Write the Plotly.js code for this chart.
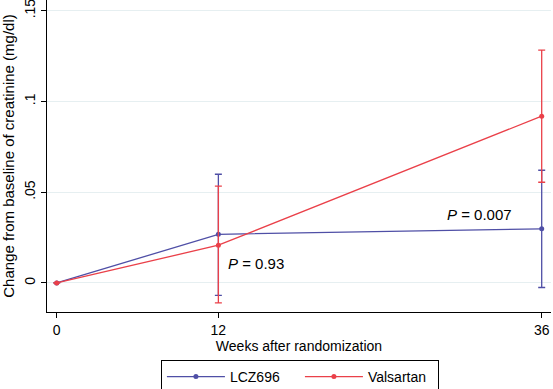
<!DOCTYPE html>
<html><head><meta charset="utf-8">
<script src="https://cdn.plot.ly/plotly-3.0.1.min.js"></script>
<style>html,body{margin:0;padding:0;background:#fff}#chart{width:553px;height:389px}</style>
</head><body><div id="chart"></div>
<script>
var weeks = [0, 12, 36];
var lczMean = [0, 0.0268, 0.0298];
var lczUpper = [0, 0.0599, 0.0621];
var lczLower = [0, -0.0068, -0.0025];
var valMean = [0, 0.0208, 0.0919];
var valUpper = [0, 0.0533, 0.1283];
var valLower = [0, -0.011, 0.0555];
var yTickVals = [0, 0.05, 0.1, 0.15];
var yTickText = ['0', '.05', '.1', '.15'];
var xTickVals = [0, 12, 36];
var seriesNames = ['LCZ696', 'Valsartan'];
var pLabels = ['<i>P</i> = 0.93', '<i>P</i> = 0.007'];

function diff(a, b) { return a.map(function (v, i) { return v - b[i]; }); }

var blue = '#4f4fa6', red = '#ea4049';
var font = 'Liberation Sans, Arial, sans-serif';

var traces = [
  {x: weeks, y: lczMean, name: seriesNames[0], type: 'scatter', mode: 'lines+markers',
   line: {color: blue, width: 1.3}, marker: {color: blue, size: 5},
   error_y: {type: 'data', symmetric: false, array: diff(lczUpper, lczMean), arrayminus: diff(lczMean, lczLower),
             color: blue, thickness: 1.3, width: 3.5}},
  {x: weeks, y: valMean, name: seriesNames[1], type: 'scatter', mode: 'lines+markers',
   line: {color: red, width: 1.3}, marker: {color: red, size: 5},
   error_y: {type: 'data', symmetric: false, array: diff(valUpper, valMean), arrayminus: diff(valMean, valLower),
             color: red, thickness: 1.3, width: 3.5}}
];

var layout = {
  width: 553, height: 389,
  margin: {l: 47, r: 2, t: 0, b: 77, autoexpand: false},
  paper_bgcolor: '#fff', plot_bgcolor: '#fff',
  font: {family: font, size: 14, color: '#000'},
  showlegend: true,
  legend: {orientation: 'h', xref: 'container', yref: 'container', x: 0.291, xanchor: 'left', y: 0.0746, yanchor: 'top',
           bordercolor: '#000', borderwidth: 1, font: {size: 14}, itemwidth: 58,
           entrywidth: 65, entrywidthmode: 'pixels'},
  xaxis: {range: [-0.72, 36.69], tickvals: xTickVals, ticks: 'outside', ticklen: 5, tickcolor: '#000',
          showline: true, linecolor: '#000', linewidth: 1, showgrid: false, zeroline: false, automargin: false,
          title: {text: 'Weeks after randomization', standoff: 4, font: {size: 14}}, fixedrange: true},
  yaxis: {range: [-0.016, 0.1559], tickvals: yTickVals, ticktext: yTickText, tickangle: -90,
          ticklabeloverflow: 'allow',
          ticks: 'outside', ticklen: 5, tickcolor: '#000', automargin: false,
          showline: true, linecolor: '#000', linewidth: 1, showgrid: true, gridcolor: '#e6eff1', gridwidth: 1,
          zeroline: false,
          title: {text: 'Change from baseline of creatinine (mg/dl)', standoff: 4, font: {size: 15}}, fixedrange: true},
  annotations: [
    {x: 12.57, y: 0.0109, xref: 'x', yref: 'y', text: pLabels[0], showarrow: false, xanchor: 'left', yanchor: 'middle', font: {size: 15}},
    {x: 28.83, y: 0.0379, xref: 'x', yref: 'y', text: pLabels[1], showarrow: false, xanchor: 'left', yanchor: 'middle', font: {size: 15}}
  ]
};

Plotly.newPlot('chart', traces, layout, {displayModeBar: false, staticPlot: true});
</script></body></html>
